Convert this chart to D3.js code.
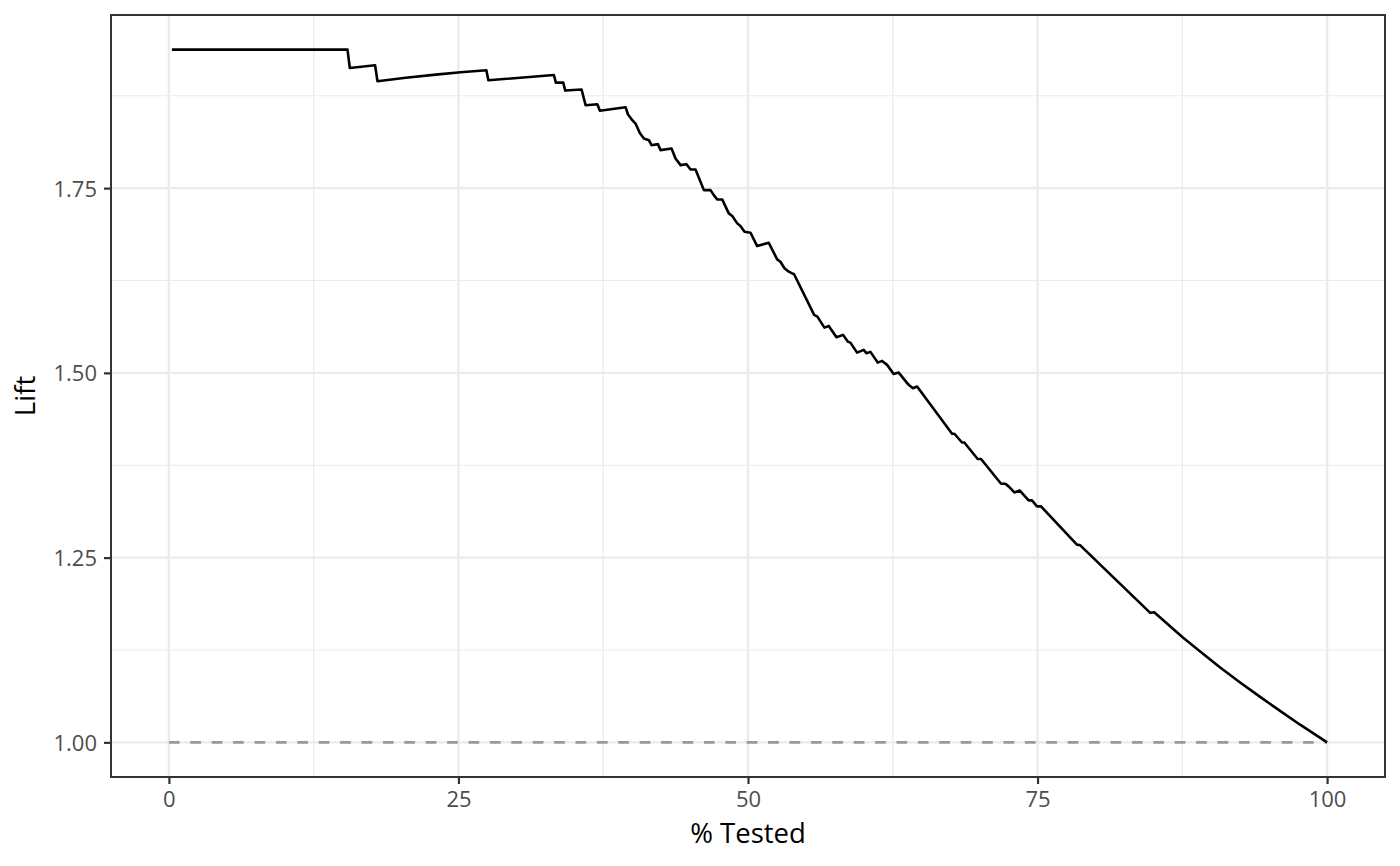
<!DOCTYPE html>
<html lang="en">
<head>
    <meta charset="UTF-8">
    <title>Lift chart</title>
    <script src="https://d3js.org/d3.v7.min.js"></script>
    <style>
        body {
            margin: 0;
            background: #fff;
            font-family: "Open Sans", "Noto Sans", sans-serif;
        }
        .tick text {
            font-family: "Open Sans", "Noto Sans", sans-serif;
            font-size: 22px;
            fill: #4d4d4d;
        }
        .tick line {
            stroke: #333333;
            stroke-width: 2.2;
        }
        .axis-title {
            font-size: 27.5px;
            fill: #000;
        }
    </style>
</head>
<body>
    <div id="chart"></div>

    <script>
        // % tested vs lift
        const pctTested = [0.26, 15.42, 15.62, 17.80, 18.01, 20.45, 23.04, 25.19, 27.41, 27.58,
            33.24, 33.41, 34.05, 34.22, 35.63, 35.98, 36.99, 37.21, 39.43, 39.63,
            40.01, 40.29, 40.66, 41.01, 41.44, 41.67, 42.22, 42.45, 43.40, 43.74,
            44.18, 44.69, 45.04, 45.47, 46.19, 46.76, 47.05, 47.34, 47.77, 48.34,
            48.64, 49.07, 49.35, 49.70, 50.22, 50.79, 51.79, 52.52, 52.80, 53.15,
            53.52, 53.81, 53.98, 55.71, 55.99, 56.60, 56.97, 57.64, 58.21, 58.61,
            58.84, 59.42, 59.99, 60.22, 60.57, 61.20, 61.58, 62.01, 62.58, 63.01,
            63.87, 64.24, 64.60, 67.62, 67.82, 68.48, 68.68, 69.83, 70.12, 71.85,
            72.22, 72.50, 73.00, 73.45, 74.23, 74.52, 74.95, 75.30, 78.40, 78.69,
            80.70, 84.73, 85.07, 87.55, 89.04, 90.77, 92.49, 94.22, 95.94, 97.67, 100];
        const lift = [1.9374, 1.9374, 1.9126, 1.9162, 1.8946, 1.8993, 1.9036, 1.9068, 1.9095, 1.8959,
            1.9031, 1.8928, 1.8928, 1.8820, 1.8834, 1.8622, 1.8635, 1.8548, 1.8595, 1.8500,
            1.8419, 1.8374, 1.8247, 1.8172, 1.8149, 1.8081, 1.8095, 1.8014, 1.8036, 1.7901,
            1.7811, 1.7824, 1.7753, 1.7753, 1.7473, 1.7473, 1.7405, 1.7347, 1.7347, 1.7158,
            1.7122, 1.7023, 1.6986, 1.6909, 1.6896, 1.6716, 1.6761, 1.6536, 1.6504, 1.6415,
            1.6369, 1.6347, 1.6334, 1.5784, 1.5761, 1.5612, 1.5635, 1.5482, 1.5514, 1.5423,
            1.5409, 1.5274, 1.5311, 1.5266, 1.5284, 1.5139, 1.5162, 1.5108, 1.4986, 1.5004,
            1.4838, 1.4793, 1.4815, 1.4176, 1.4176, 1.4058, 1.4058, 1.3834, 1.3834, 1.3500,
            1.3500, 1.3464, 1.3382, 1.3409, 1.3274, 1.3274, 1.3193, 1.3193, 1.2676, 1.2666,
            1.2361, 1.1753, 1.1761, 1.1419, 1.1230, 1.1014, 1.0811, 1.0615, 1.0426, 1.0239, 1.0];

        // baseline (random model)
        const baseX = [0, 100];
        const baseY = [1, 1];

        const xTicks = [0, 25, 50, 75, 100];
        const xMinor = [12.5, 37.5, 62.5, 87.5];
        const yTicks = [1.00, 1.25, 1.50, 1.75];
        const yMinor = [1.125, 1.375, 1.625, 1.875];

        const W = 1400, H = 866;
        const panel = { left: 111, right: 1385, top: 15, bottom: 777 };

        const svg = d3.select('#chart')
            .append('svg')
            .attr('width', W)
            .attr('height', H);

        svg.append('rect')
            .attr('width', W)
            .attr('height', H)
            .attr('fill', '#fff');

        // ggplot style 5% expansion
        const yMax = d3.max(lift), yMin = 1;
        const ySpan = yMax - yMin;
        const xScale = d3.scaleLinear().domain([-5, 105]).range([panel.left, panel.right]);
        const yScale = d3.scaleLinear()
            .domain([yMin - 0.05 * ySpan, yMax + 0.05 * ySpan])
            .range([panel.bottom, panel.top]);

        const grid = svg.append('g');

        // minor grid
        grid.selectAll('.vminor').data(xMinor).enter().append('line')
            .attr('x1', d => xScale(d)).attr('x2', d => xScale(d))
            .attr('y1', panel.top).attr('y2', panel.bottom)
            .attr('stroke', '#ebebeb').attr('stroke-width', 1.2);
        grid.selectAll('.hminor').data(yMinor).enter().append('line')
            .attr('y1', d => yScale(d)).attr('y2', d => yScale(d))
            .attr('x1', panel.left).attr('x2', panel.right)
            .attr('stroke', '#ebebeb').attr('stroke-width', 1.2);

        // major grid
        grid.selectAll('.vmajor').data(xTicks).enter().append('line')
            .attr('x1', d => xScale(d)).attr('x2', d => xScale(d))
            .attr('y1', panel.top).attr('y2', panel.bottom)
            .attr('stroke', '#ebebeb').attr('stroke-width', 2.4);
        grid.selectAll('.hmajor').data(yTicks).enter().append('line')
            .attr('y1', d => yScale(d)).attr('y2', d => yScale(d))
            .attr('x1', panel.left).attr('x2', panel.right)
            .attr('stroke', '#ebebeb').attr('stroke-width', 2.4);

        const line = d3.line()
            .x(d => xScale(d[0]))
            .y(d => yScale(d[1]));

        // dashed reference line
        svg.append('path')
            .datum(d3.zip(baseX, baseY))
            .attr('fill', 'none')
            .attr('stroke', '#999999')
            .attr('stroke-width', 2.6)
            .attr('stroke-dasharray', '10.7,10.7')
            .attr('d', line);

        // lift curve
        svg.append('path')
            .datum(d3.zip(pctTested, lift))
            .attr('fill', 'none')
            .attr('stroke', '#000')
            .attr('stroke-width', 2.6)
            .attr('stroke-linejoin', 'round')
            .attr('d', line);

        // axes
        const xAxis = svg.append('g')
            .attr('transform', `translate(0, ${panel.bottom})`)
            .call(d3.axisBottom(xScale).tickValues(xTicks).tickSize(7).tickPadding(7));
        xAxis.select('.domain').remove();

        const yAxis = svg.append('g')
            .attr('transform', `translate(${panel.left}, 0)`)
            .call(d3.axisLeft(yScale).tickValues(yTicks).tickFormat(d3.format('.2f')).tickSize(7).tickPadding(7));
        yAxis.select('.domain').remove();
        yAxis.selectAll('.tick text').attr('dy', '0.36em');

        // panel border
        svg.append('rect')
            .attr('x', panel.left)
            .attr('y', panel.top)
            .attr('width', panel.right - panel.left)
            .attr('height', panel.bottom - panel.top)
            .attr('fill', 'none')
            .attr('stroke', '#333333')
            .attr('stroke-width', 2);

        // axis titles
        svg.append('text')
            .attr('class', 'axis-title')
            .attr('x', (panel.left + panel.right) / 2)
            .attr('y', 843)
            .attr('text-anchor', 'middle')
            .text('% Tested');

        svg.append('text')
            .attr('class', 'axis-title')
            .attr('transform', `translate(35, ${(panel.top + panel.bottom) / 2}) rotate(-90)`)
            .attr('text-anchor', 'middle')
            .text('Lift');
    </script>
</body>
</html>
